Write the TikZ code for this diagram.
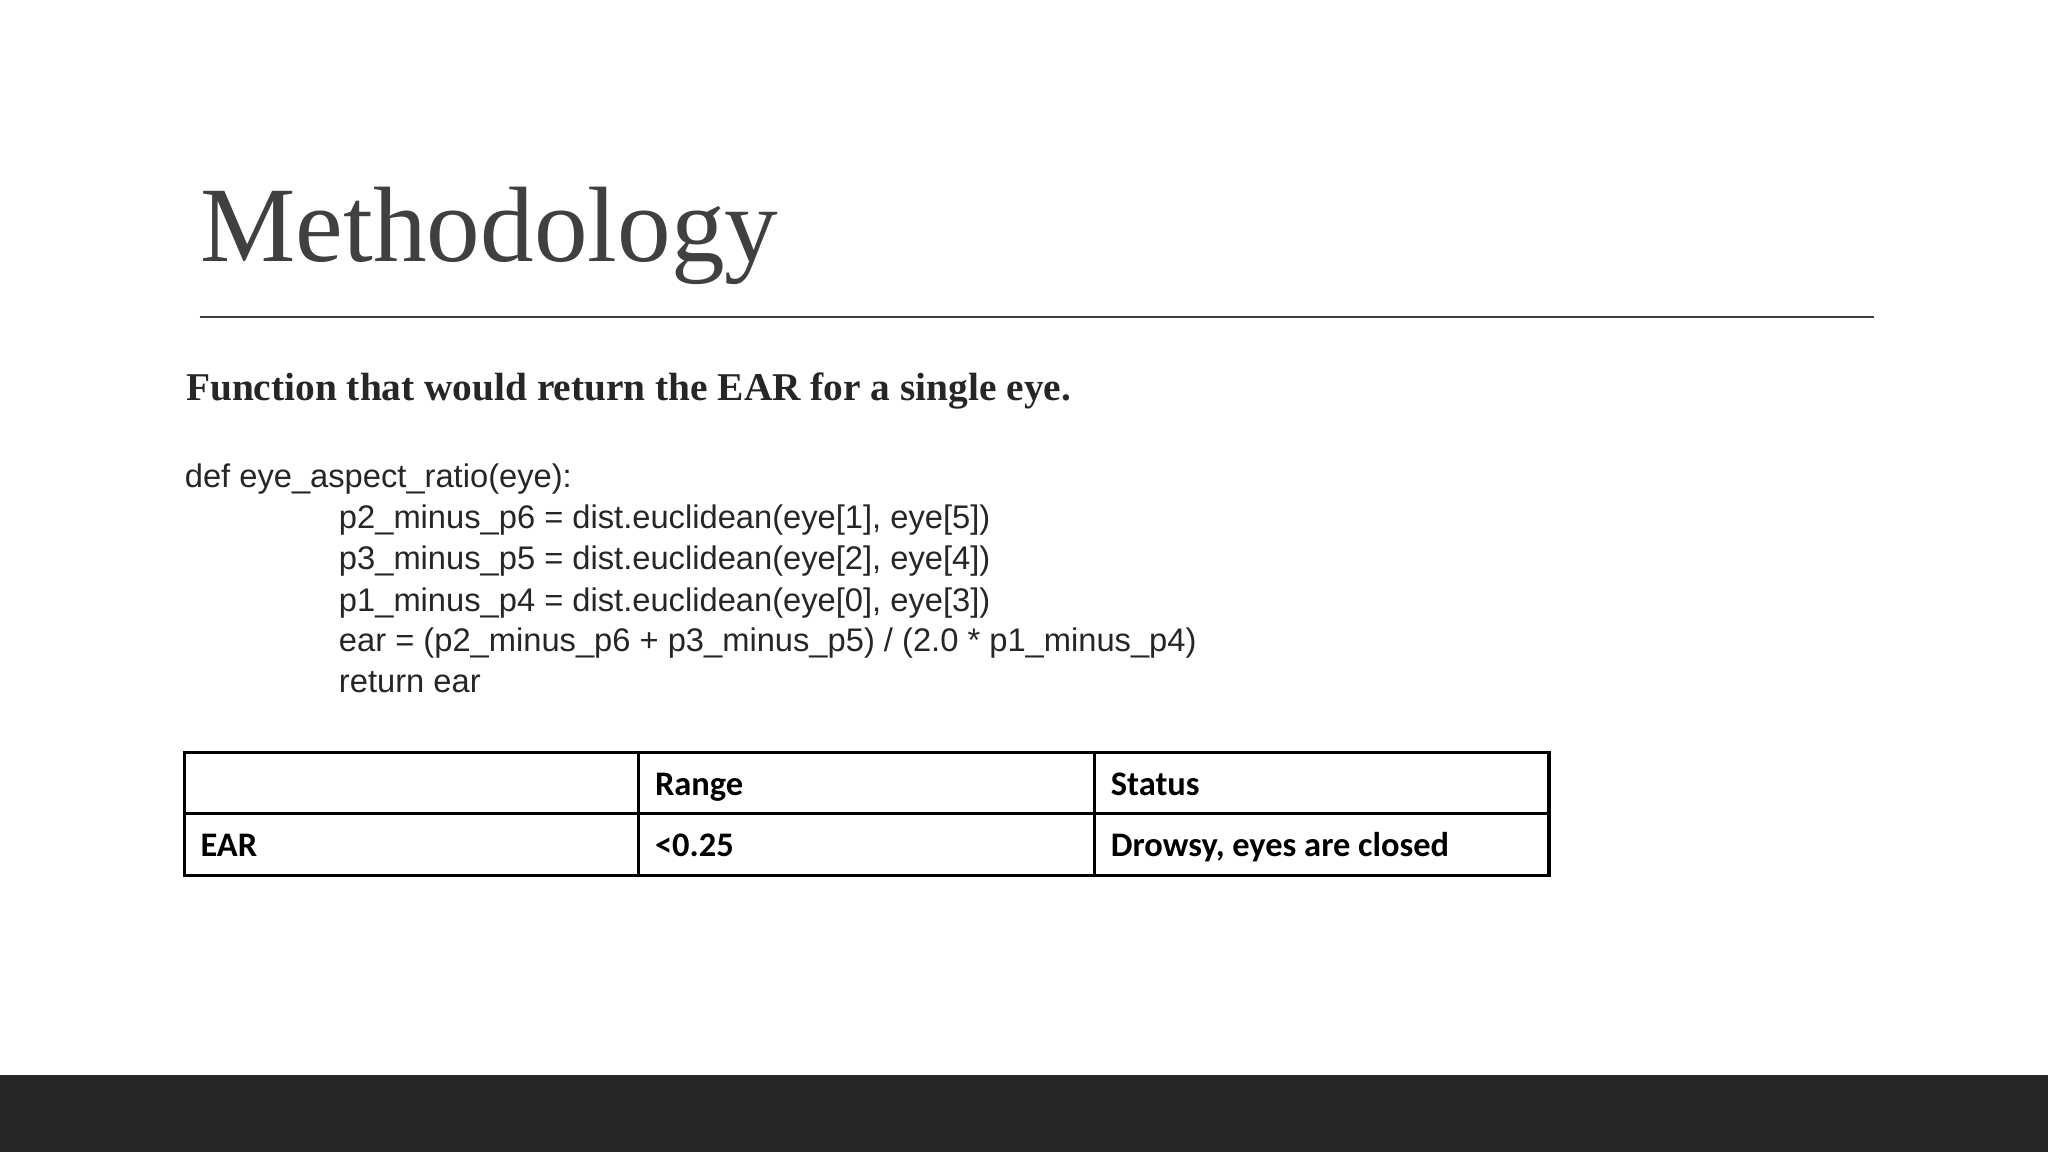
\documentclass[tikz,border=0pt]{standalone}
\usepackage{fontspec}
\setmainfont{Liberation Serif}
\newfontfamily\codef{Liberation Sans}
\newfontfamily\tabf{Carlito}
\definecolor{titlegray}{HTML}{404040}
\definecolor{band}{HTML}{262626}
\begin{document}
\begin{tikzpicture}[x=0.013061cm,y=-0.013061cm,
  code/.style={anchor=base west,inner sep=0,font=\codef\fontsize{9.3pt}{11pt}\selectfont,text=black!85},
  cell/.style={anchor=base west,inner sep=0,font=\tabf\bfseries\fontsize{9.8pt}{11pt}\selectfont},
  grid/.style={line width=0.9pt}]
\useasboundingbox (0,0) rectangle (1568,882);
\fill[band] (0,823) rectangle (1568,882);
\node[anchor=base west,inner sep=0,text=titlegray,font=\fontsize{30.5pt}{34pt}\selectfont] (title) at (153,200) {Methodology};
\draw[titlegray,line width=0.6pt] (153,243) coordinate (l1) -- (1435,243) coordinate (l2);
\node[anchor=base west,inner sep=0,font=\bfseries\fontsize{11.2pt}{13pt}\selectfont,text=black!85] (sub) at (142,307) {Function that would return the EAR for a single eye.};
\node[code] (c0) at (141,373) {def eye\_aspect\_ratio(eye):};
\node[code] (c1) at (259,405) {p2\_minus\_p6 = dist.euclidean(eye[1], eye[5])};
\node[code] (c2) at (259,436) {p3\_minus\_p5 = dist.euclidean(eye[2], eye[4])};
\node[code] (c3) at (259,468) {p1\_minus\_p4 = dist.euclidean(eye[0], eye[3])};
\node[code] (c4) at (259,499) {ear = (p2\_minus\_p6 + p3\_minus\_p5) / (2.0 * p1\_minus\_p4)};
\node[code] (c5) at (259,530) {return ear};
\draw[grid] (141,576) rectangle (1186,670);
\draw[grid] (141,623) -- (1186,623);
\draw[grid] (489,576) -- (489,670);
\draw[grid] (838,576) -- (838,670);
\node[cell] (t1) at (501,609) {Range};
\node[cell] (t2) at (850,609) {Status};
\node[cell] (t3) at (153,656) {EAR};
\node[cell] (t4) at (501,656) {<0.25};
\node[cell] (t5) at (850,656) {Drowsy, eyes are closed};
\end{tikzpicture}
\end{document}
